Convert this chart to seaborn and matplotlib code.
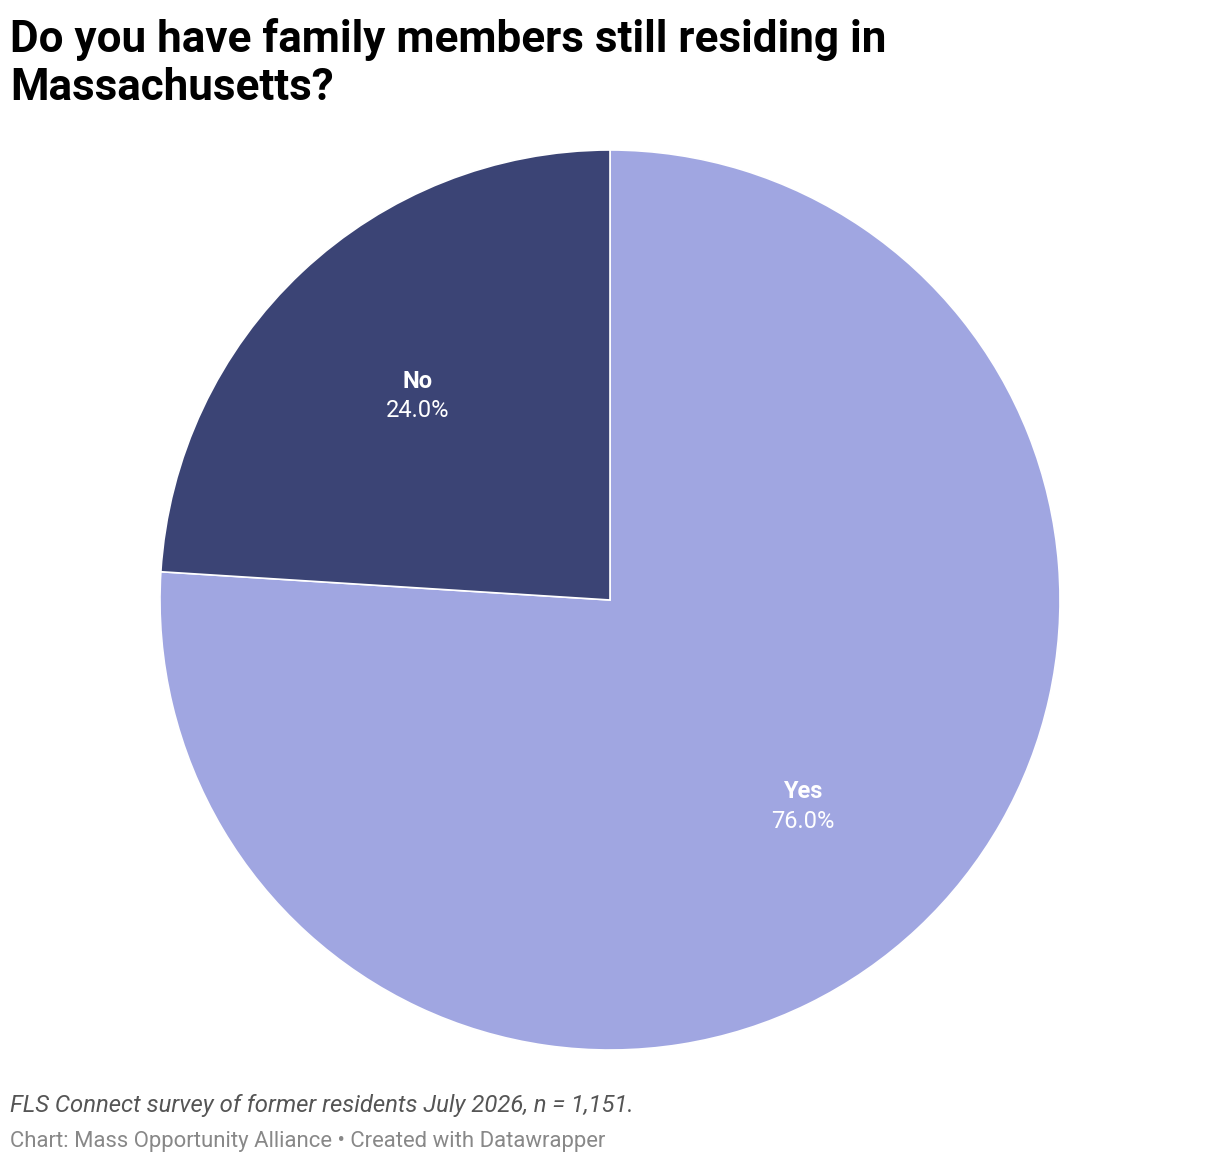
import matplotlib.pyplot as plt
import numpy as np
import seaborn as sns

# survey answers, clockwise from 12 o'clock
labels = ['Yes', 'No']
shares = [76.0, 24.0]
colors = ['#A0A6E1', '#3B4475']

title_lines = ['Do you have family members still residing in', 'Massachusetts?']
note = 'FLS Connect survey of former residents July 2026, n = 1,151.'
credit = 'Chart: Mass Opportunity Alliance \u2022 Created with Datawrapper'

sns.set_theme(style='white')
plt.rcParams['font.family'] = ['Roboto', 'DejaVu Sans']

W, H = 1220, 1164
fig = plt.figure(figsize=(W / 100, H / 100), dpi=100)
ax = fig.add_axes([160 / W, 114 / H, 900 / W, 900 / H])

wedges, _ = ax.pie(shares, colors=colors, startangle=90, counterclock=False,
                   radius=1.0, wedgeprops=dict(edgecolor='white', linewidth=1.2))
ax.set_xlim(-1, 1)
ax.set_ylim(-1, 1)
ax.set_aspect('equal')

# labels at mid-angle, ~62% of radius (450 px radius)
start = 90.0
for lab, val in zip(labels, shares):
    mid = np.deg2rad(start - val / 100 * 360 / 2)
    start -= val / 100 * 360
    x, y = 0.625 * np.cos(mid), 0.625 * np.sin(mid)
    ax.text(x, y + 0.015, lab, ha='center', va='baseline', color='white',
            fontsize=17, fontweight='bold')
    ax.text(x, y - 0.05, f'{val:.1f}%', ha='center', va='baseline', color='white',
            fontsize=17)

for i, line in enumerate(title_lines):
    fig.text(10 / W, 1 - (52 + 48 * i) / H, line, ha='left', va='baseline',
             fontsize=31.7, fontweight='bold', color='#000000')
fig.text(10 / W, 1 - 1112 / H, note, ha='left', va='baseline',
         fontsize=17.2, style='italic', color='#555555')
fig.text(10 / W, 1 - 1147 / H, credit, ha='left', va='baseline',
         fontsize=15.9, color='#888888')

fig.savefig('out.png', dpi=100, facecolor='white')
